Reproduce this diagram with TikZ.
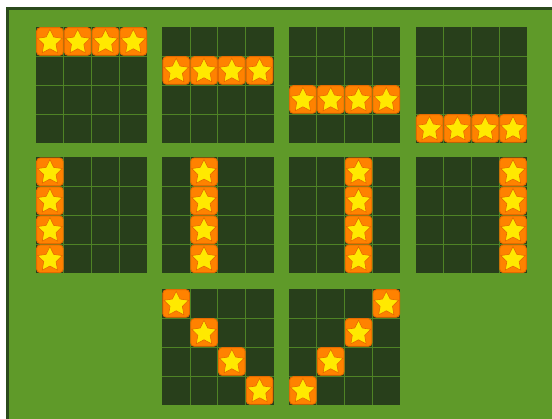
\documentclass[tikz,border=0pt]{standalone}
\usepackage{tikz}
\usetikzlibrary{shapes.geometric}
\definecolor{felt}{HTML}{5F9A29}
\definecolor{feltedge}{HTML}{2B4A1C}
\definecolor{cellfill}{HTML}{283F1B}
\definecolor{cellline}{HTML}{4F8325}
\definecolor{tileorange}{HTML}{FF8200}
\definecolor{tileedge}{HTML}{E56A00}
\definecolor{staryellow}{HTML}{FFE900}
\tikzset{
  gridline/.style={draw=cellline, line width=0.9pt},
  tile/.style={draw=tileedge, fill=tileorange, rounded corners=3.5pt, line width=0.9pt, minimum width=26.6pt, minimum height=27.6pt, inner sep=0pt},
  startile/.style={star, star points=5, star point ratio=2.0, fill=staryellow, draw=tileedge, line width=0.6pt, minimum size=26pt, inner sep=0pt},
}
% one 4x4 board, given by its top left corner
\newcommand{\drawboard}[2]{%
  \fill[cellfill] (#1,#2) rectangle ++(111.2,116);
  \foreach \k in {1,2,3} {
    \draw[gridline] (#1+\k*27.8,#2) -- ++(0,116);
    \draw[gridline] (#1,#2+\k*29) -- ++(111.2,0);
  }
}
% a star tile in column #3, row #4 of the board at (#1,#2)
\newcommand{\startile}[5]{%
  \node[tile] (#5) at (#1+#3*27.8+13.9,#2+#4*29+14.5) {};
  \node[startile] (#5-s) at ([yshift=-0.8pt]#5.center) {};
}

\begin{document}
\begin{tikzpicture}[x=1pt,y=-1pt]
  \useasboundingbox (0,0) rectangle (552,419);
  \fill[white] (0,0) rectangle (552,419);
  % table
  \fill[felt] (6,7) rectangle (552,419);
  \draw[feltedge, line width=3pt] (7.5,419) -- (7.5,8.5) -- (552,8.5);
  % boards
  \foreach \bx in {36,162.3,289,415.7} {
    \drawboard{\bx}{27}
    \drawboard{\bx}{157.3}
  }
  \drawboard{162.3}{289}
  \drawboard{289}{289}
  % rows
  \foreach \b/\bx in {0/36,1/162.3,2/289,3/415.7}
    \foreach \c in {0,1,2,3}
      \startile{\bx}{27}{\c}{\b}{r\b-\c};
  % columns
  \foreach \b/\bx in {0/36,1/162.3,2/289,3/415.7}
    \foreach \r in {0,1,2,3}
      \startile{\bx}{157.3}{\b}{\r}{c\b-\r};
  % diagonals
  \foreach \r in {0,1,2,3} {
    \startile{162.3}{289}{\r}{\r}{d-\r};
    \pgfmathtruncatemacro{\ac}{3-\r}
    \startile{289}{289}{\ac}{\r}{a-\r};
  }
\end{tikzpicture}
\end{document}
